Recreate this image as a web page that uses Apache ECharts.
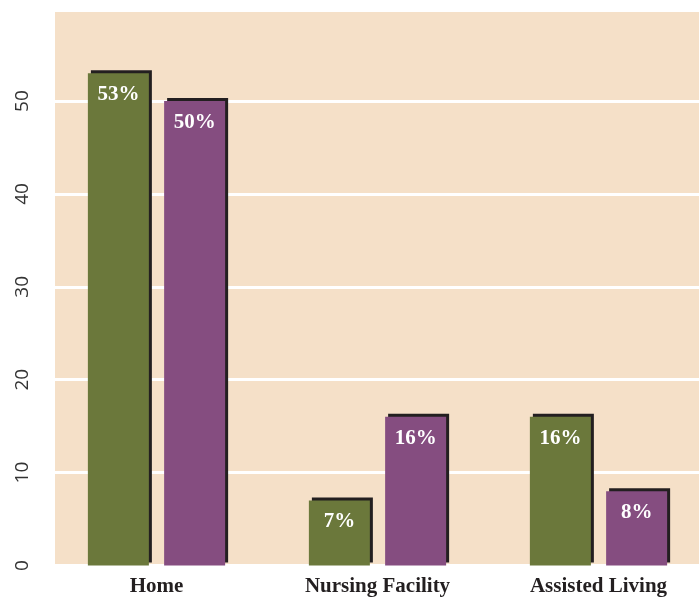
<!DOCTYPE html>
<html><head><meta charset="utf-8">
<script src="https://cdn.jsdelivr.net/npm/echarts@6/dist/echarts.min.js"></script>
<style>html,body{margin:0;padding:0;background:#fff}#c{width:699px;height:599px}</style>
</head><body><div id="c"></div>
<script>
const categories = ['Home', 'Nursing Facility', 'Assisted Living'];
const seriesA = [53, 7, 16];
const seriesB = [50, 16, 8];
const yTicks = [0, 10, 20, 30, 40, 50];

const chart = echarts.init(document.getElementById('c'), null, {renderer: 'canvas'});
const shadow = {shadowColor: '#231f20', shadowOffsetX: 3, shadowOffsetY: -3, shadowBlur: 0};
const labelCfg = {
  show: true, position: 'insideTop', distance: 11,
  formatter: p => p.value + '%',
  color: '#ffffff', fontFamily: 'Liberation Serif', fontWeight: 'bold', fontSize: 21
};
chart.setOption({
  animation: false,
  graphic: [{type: 'rect', z: -10, silent: true, shape: {x: 55, y: 10, width: 644, height: 555.5}, style: {fill: '#f5e0c8'}}],
  grid: {left: 46, width: 663, top: 10, bottom: 33.5, outerBoundsMode: 'none', containLabel: false},
  xAxis: {
    type: 'category', data: categories,
    axisLine: {show: false}, axisTick: {show: false},
    axisLabel: {margin: 11, color: '#231f20', fontFamily: 'Liberation Serif', fontWeight: 'bold', fontSize: 21}
  },
  yAxis: {
    type: 'value', min: 0, max: 59.8, interval: 10,
    axisLine: {show: false}, axisTick: {show: false},
    splitLine: {lineStyle: {color: '#ffffff', width: 3}},
    axisLabel: {rotate: 90, margin: 14, color: '#333333', fontFamily: 'Open Sans', fontSize: 19,
      formatter: v => (yTicks.indexOf(v) >= 0 ? String(v) : '')}
  },
  series: [
    {type: 'bar', data: seriesA, barWidth: 61, barGap: '25%', itemStyle: Object.assign({color: '#6b783b'}, shadow), label: labelCfg},
    {type: 'bar', data: seriesB, barWidth: 61, barGap: '25%', itemStyle: Object.assign({color: '#854d80'}, shadow), label: labelCfg}
  ]
});
</script></body></html>
